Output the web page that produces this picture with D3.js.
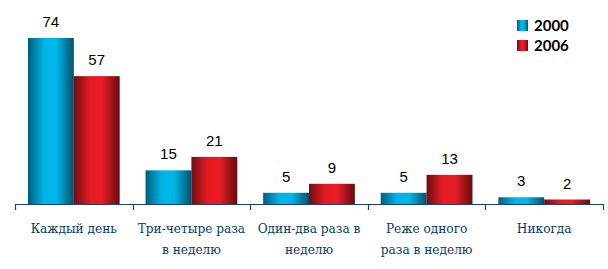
<!DOCTYPE html>
<html>
<head>
<meta charset="utf-8">
<script src="https://cdn.jsdelivr.net/npm/d3@7"></script>
<style>
  body { margin: 0; background: #fff; }
</style>
</head>
<body>
<div class="chart"></div>
<script>
var categories = ["Каждый день", "Три-четыре раза в неделю", "Один-два раза в неделю", "Реже одного раза в неделю", "Никогда"];
var labelLines = [["Каждый день"], ["Три-четыре раза", "в неделю"], ["Один-два раза в", "неделю"], ["Реже одного", "раза в неделю"], ["Никогда"]];
var seriesNames = ["2000", "2006"];
var values2000 = [74, 15, 5, 5, 3];
var values2006 = [57, 21, 9, 13, 2];

var width = 608, height = 269;
var axisY = 204;

var svg = d3.select(".chart").append("svg")
    .attr("width", width)
    .attr("height", height);

// gradients for the bars
var defs = svg.append("defs");
var grads = [
  {id: "g2000", stops: [["0%", "#005d7c"], ["35%", "#00b4e6"], ["62%", "#00b6e8"], ["100%", "#00506b"]]},
  {id: "g2006", stops: [["0%", "#6e0d12"], ["35%", "#e41b23"], ["62%", "#e81c24"], ["100%", "#650c10"]]}
];
grads.forEach(function(g) {
  var lg = defs.append("linearGradient").attr("id", g.id)
      .attr("x1", "0%").attr("x2", "100%").attr("y1", "0%").attr("y2", "0%");
  g.stops.forEach(function(s) {
    lg.append("stop").attr("offset", s[0]).attr("stop-color", s[1]);
  });
});

var x0 = d3.scaleBand()
    .domain(categories)
    .range([15, 603])
    .paddingInner(0.22)
    .paddingOuter(0.11);

var x1 = d3.scaleBand()
    .domain(seriesNames)
    .range([0, x0.bandwidth()]);

var y = d3.scaleLinear()
    .domain([0, 74])
    .range([axisY, 38]);

var data = categories.map(function(c, i) {
  return {cat: c, vals: [
    {name: "2000", v: values2000[i]},
    {name: "2006", v: values2006[i]}
  ]};
});

var groups = svg.selectAll(".grp")
    .data(data)
    .enter().append("g")
      .attr("class", "grp")
      .attr("transform", function(d) { return "translate(" + x0(d.cat) + ",0)"; });

groups.selectAll("rect")
    .data(function(d) { return d.vals; })
    .enter().append("rect")
      .attr("x", function(d) { return x1(d.name); })
      .attr("y", function(d) { return y(d.v); })
      .attr("width", x1.bandwidth())
      .attr("height", function(d) { return axisY - y(d.v); })
      .attr("fill", function(d) { return "url(#g" + d.name + ")"; });

groups.selectAll(".val")
    .data(function(d) { return d.vals; })
    .enter().append("text")
      .attr("class", "val")
      .attr("x", function(d) { return x1(d.name) + x1.bandwidth() / 2; })
      .attr("y", function(d) { return y(d.v) - 11; })
      .attr("text-anchor", "middle")
      .attr("font-family", "'Liberation Sans', Arial, sans-serif")
      .attr("font-size", 15)
      .attr("fill", "#000")
      .text(function(d) { return d.v; });

// axis line and ticks at band edges
var axisColor = "#1f3f6e";
svg.append("line")
    .attr("x1", 15).attr("x2", 603)
    .attr("y1", axisY + 0.5).attr("y2", axisY + 0.5)
    .style("stroke", axisColor)
    .style("stroke-width", 1.2);

var step = x0.step();
var tickXs = d3.range(categories.length + 1).map(function(i) { return 15 + i * step; });
svg.selectAll(".tick")
    .data(tickXs)
    .enter().append("line")
      .attr("x1", function(d) { return Math.round(d) + 0.5; })
      .attr("x2", function(d) { return Math.round(d) + 0.5; })
      .attr("y1", axisY)
      .attr("y2", axisY + 6)
      .style("stroke", axisColor)
      .style("stroke-width", 1.2);

// category labels (Liberation Serif has no cyrillic here)
var labels = svg.selectAll(".cat")
    .data(categories)
    .enter().append("text")
      .attr("class", "cat")
      .attr("text-anchor", "middle")
      .attr("font-family", "'DejaVu Serif Condensed', 'DejaVu Serif', serif")
      .attr("font-size", 13.5)
      .attr("fill", "#0a3868");

labels.selectAll("tspan")
    .data(function(d, i) { return labelLines[i].map(function(t) { return {t: t, c: d}; }); })
    .enter().append("tspan")
      .attr("x", function(d) { return x0(d.c) + x0.bandwidth() / 2; })
      .attr("y", function(d, j) { return 233 + j * 21; })
      .text(function(d) { return d.t; });

// legend
var legend = svg.selectAll(".leg")
    .data(seriesNames)
    .enter().append("g")
      .attr("class", "leg")
      .attr("transform", function(d, i) { return "translate(517," + (20 + i * 20) + ")"; });

legend.append("rect")
    .attr("width", 11)
    .attr("height", 11)
    .attr("fill", function(d) { return "url(#g" + d + ")"; });

legend.append("text")
    .attr("x", 17)
    .attr("y", 11)
    .attr("font-family", "Lato, sans-serif")
    .attr("font-weight", "bold")
    .attr("font-size", 15)
    .attr("fill", "#000")
    .text(function(d) { return d; });
</script>
</body>
</html>
